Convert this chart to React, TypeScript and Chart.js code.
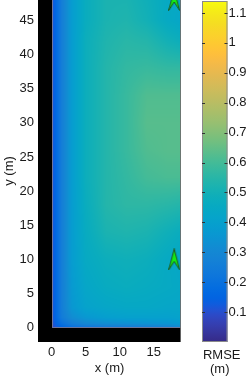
import React, { useEffect, useRef } from "react";
import { Chart, registerables } from "chart.js";
Chart.register(...registerables);

// ---- data ----
const gridX = [0, 0.6, 1.5, 3, 5, 8, 11, 14, 17, 19];
const gridY = [0, 0.6, 1.5, 3, 6, 10, 14, 18, 22, 26, 30, 34, 38, 42, 45, 48];
// RMSE (m), one row per gridY value, one column per gridX value
const rmse = [
  [0.08, 0.11, 0.15, 0.19, 0.21, 0.23, 0.24, 0.25, 0.27, 0.3],
  [0.09, 0.14, 0.2, 0.26, 0.3, 0.32, 0.33, 0.34, 0.35, 0.37],
  [0.1, 0.16, 0.25, 0.32, 0.36, 0.39, 0.4, 0.4, 0.4, 0.41],
  [0.1, 0.16, 0.26, 0.36, 0.41, 0.43, 0.44, 0.44, 0.43, 0.43],
  [0.1, 0.16, 0.26, 0.37, 0.43, 0.46, 0.47, 0.46, 0.45, 0.44],
  [0.1, 0.16, 0.26, 0.38, 0.45, 0.48, 0.49, 0.48, 0.45, 0.43],
  [0.1, 0.16, 0.26, 0.38, 0.46, 0.52, 0.53, 0.52, 0.49, 0.47],
  [0.1, 0.16, 0.26, 0.38, 0.47, 0.54, 0.56, 0.56, 0.55, 0.54],
  [0.1, 0.16, 0.26, 0.38, 0.48, 0.54, 0.57, 0.6, 0.61, 0.61],
  [0.1, 0.16, 0.26, 0.38, 0.48, 0.54, 0.58, 0.62, 0.63, 0.63],
  [0.1, 0.16, 0.26, 0.38, 0.48, 0.54, 0.58, 0.63, 0.63, 0.63],
  [0.1, 0.16, 0.26, 0.38, 0.48, 0.54, 0.58, 0.62, 0.62, 0.62],
  [0.1, 0.16, 0.26, 0.38, 0.48, 0.54, 0.57, 0.58, 0.57, 0.57],
  [0.1, 0.16, 0.26, 0.38, 0.48, 0.53, 0.55, 0.54, 0.5, 0.48],
  [0.1, 0.16, 0.26, 0.38, 0.47, 0.52, 0.53, 0.5, 0.45, 0.43],
  [0.1, 0.16, 0.26, 0.38, 0.47, 0.52, 0.52, 0.49, 0.45, 0.44],
];
const receivers = [
  { x: 18, y: 10 },
  { x: 18, y: 48 },
];
const xTicks = [0, 5, 10, 15];
const yTicks = [0, 5, 10, 15, 20, 25, 30, 35, 40, 45];
const cbTicks = [0.1, 0.2, 0.3, 0.4, 0.5, 0.6, 0.7, 0.8, 0.9, 1, 1.1];
const cbMin = 0;
const cbMax = 1.14;

// ---- colormap (parula) ----
const parula = [
  [0.2081, 0.1663, 0.5292], [0.2116, 0.1898, 0.5777], [0.2123, 0.2138, 0.627], [0.2081, 0.2386, 0.6771],
  [0.1959, 0.2645, 0.7279], [0.1707, 0.2919, 0.7792], [0.1253, 0.3242, 0.8303], [0.0591, 0.3598, 0.8683],
  [0.0117, 0.3875, 0.882], [0.006, 0.4086, 0.8828], [0.0165, 0.4266, 0.8786], [0.0329, 0.443, 0.872],
  [0.0498, 0.4586, 0.8641], [0.0629, 0.4737, 0.8554], [0.0723, 0.4887, 0.8467], [0.0779, 0.504, 0.8384],
  [0.0793, 0.52, 0.8312], [0.0749, 0.5375, 0.8263], [0.0641, 0.557, 0.824], [0.0488, 0.5772, 0.8228],
  [0.0343, 0.5966, 0.8199], [0.0265, 0.6137, 0.8135], [0.0239, 0.6287, 0.8038], [0.0231, 0.6418, 0.7913],
  [0.0228, 0.6535, 0.7768], [0.0267, 0.6642, 0.7607], [0.0384, 0.6743, 0.7436], [0.059, 0.6838, 0.7254],
  [0.0843, 0.6928, 0.7062], [0.1133, 0.7015, 0.6859], [0.1453, 0.7098, 0.6646], [0.1801, 0.7177, 0.6424],
  [0.2178, 0.725, 0.6193], [0.2586, 0.7317, 0.5954], [0.3022, 0.7376, 0.5712], [0.3482, 0.7424, 0.5473],
  [0.3953, 0.7459, 0.5244], [0.442, 0.7481, 0.5033], [0.4871, 0.7491, 0.484], [0.53, 0.7491, 0.4661],
  [0.5709, 0.7485, 0.4494], [0.6099, 0.7473, 0.4337], [0.6473, 0.7456, 0.4188], [0.6834, 0.7435, 0.4044],
  [0.7184, 0.7411, 0.3905], [0.7525, 0.7384, 0.3768], [0.7858, 0.7356, 0.3633], [0.8185, 0.7327, 0.3498],
  [0.8507, 0.7299, 0.336], [0.8824, 0.7274, 0.3217], [0.9139, 0.7258, 0.3063], [0.945, 0.7261, 0.2886],
  [0.9739, 0.7314, 0.2666], [0.9938, 0.7455, 0.2403], [0.999, 0.7653, 0.2164], [0.9955, 0.7861, 0.1967],
  [0.988, 0.8066, 0.1794], [0.9789, 0.8271, 0.1633], [0.9697, 0.8481, 0.1475], [0.9626, 0.8705, 0.1309],
  [0.9589, 0.8949, 0.1132], [0.9598, 0.9218, 0.0948], [0.9661, 0.9514, 0.0755], [0.9763, 0.9831, 0.0538],
];

function colorFor(v: number): [number, number, number] {
  let t = (v - cbMin) / (cbMax - cbMin);
  t = Math.max(0, Math.min(1, t));
  const f = t * (parula.length - 1);
  const i = Math.min(parula.length - 2, Math.floor(f));
  const a = f - i;
  const c0 = parula[i];
  const c1 = parula[i + 1];
  return [
    Math.round((c0[0] + (c1[0] - c0[0]) * a) * 255),
    Math.round((c0[1] + (c1[1] - c0[1]) * a) * 255),
    Math.round((c0[2] + (c1[2] - c0[2]) * a) * 255),
  ];
}

function seg(arr: number[], v: number) {
  let i = 0;
  while (i < arr.length - 2 && v > arr[i + 1]) i++;
  const a = Math.max(0, Math.min(1, (v - arr[i]) / (arr[i + 1] - arr[i])));
  return [i, a];
}

function sample(x: number, y: number) {
  const [i, a] = seg(gridX, x);
  const [j, b] = seg(gridY, y);
  const v00 = rmse[j][i];
  const v01 = rmse[j][i + 1];
  const v10 = rmse[j + 1][i];
  const v11 = rmse[j + 1][i + 1];
  return (v00 * (1 - a) + v01 * a) * (1 - b) + (v10 * (1 - a) + v11 * a) * b;
}

const FONT = { family: "'Liberation Sans', Arial, sans-serif", size: 13 };
const TEXT = "#1a1a1a";

const heatmapPlugin = {
  id: "heatmap",
  beforeDatasetsDraw(chart: any) {
    const { ctx, chartArea } = chart;
    const xs = chart.scales.x;
    const ys = chart.scales.y;
    ctx.save();
    ctx.fillStyle = "#000";
    ctx.fillRect(chartArea.left, chartArea.top, chartArea.right - chartArea.left, chartArea.bottom - chartArea.top);
    const px0 = Math.round(xs.getPixelForValue(gridX[0]));
    const px1 = Math.round(xs.getPixelForValue(gridX[gridX.length - 1]));
    const py0 = Math.round(ys.getPixelForValue(gridY[gridY.length - 1]));
    const py1 = Math.round(ys.getPixelForValue(gridY[0]));
    const w = Math.max(1, px1 - px0);
    const h = Math.max(1, py1 - py0);
    const off = document.createElement("canvas");
    off.width = w;
    off.height = h;
    const octx = off.getContext("2d")!;
    const img = octx.createImageData(w, h);
    for (let r = 0; r < h; r++) {
      const yv = ys.getValueForPixel(py0 + r + 0.5);
      for (let c = 0; c < w; c++) {
        const xv = xs.getValueForPixel(px0 + c + 0.5);
        const [R, G, B] = colorFor(sample(xv, yv));
        const k = (r * w + c) * 4;
        img.data[k] = R;
        img.data[k + 1] = G;
        img.data[k + 2] = B;
        img.data[k + 3] = 255;
      }
    }
    octx.putImageData(img, 0, 0);
    ctx.drawImage(off, px0, py0);
    ctx.strokeStyle = "rgba(120,120,150,0.9)";
    ctx.lineWidth = 1;
    ctx.beginPath();
    ctx.moveTo(px0 + 0.5, py0);
    ctx.lineTo(px0 + 0.5, py1 - 0.5);
    ctx.lineTo(px1, py1 - 0.5);
    ctx.stroke();
    ctx.strokeStyle = "rgba(110,110,110,0.9)";
    ctx.beginPath();
    ctx.moveTo(chartArea.right - 0.5, chartArea.top);
    ctx.lineTo(chartArea.right - 0.5, chartArea.bottom);
    ctx.stroke();
    ctx.restore();
  },
};

const colorbarPlugin = {
  id: "colorbar",
  beforeDatasetsDraw(chart: any) {
    const { ctx, chartArea } = chart;
    const ys = chart.scales.y;
    const top = ys.getPixelForValue(cbMax);
    const bot = ys.getPixelForValue(cbMin);
    const g = ctx.createLinearGradient(0, bot, 0, top);
    parula.forEach((c, i) => {
      g.addColorStop(i / (parula.length - 1), `rgb(${Math.round(c[0] * 255)},${Math.round(c[1] * 255)},${Math.round(c[2] * 255)})`);
    });
    ctx.save();
    ctx.fillStyle = g;
    ctx.fillRect(chartArea.left, top, chartArea.right - chartArea.left, bot - top);
    ctx.strokeStyle = "#8a8a8a";
    ctx.lineWidth = 1;
    ctx.strokeRect(chartArea.left + 0.5, top + 0.5, chartArea.right - chartArea.left - 1, bot - top - 1);
    ctx.strokeStyle = "#333";
    ctx.beginPath();
    cbTicks.forEach((v) => {
      const p = Math.round(ys.getPixelForValue(v)) + 0.5;
      ctx.moveTo(chartArea.left, p);
      ctx.lineTo(chartArea.left + 3, p);
      ctx.moveTo(chartArea.right - 3, p);
      ctx.lineTo(chartArea.right, p);
    });
    ctx.stroke();
    ctx.fillStyle = TEXT;
    ctx.font = `${FONT.size}px ${FONT.family}`;
    ctx.textAlign = "center";
    ctx.textBaseline = "alphabetic";
    const cx = (chartArea.left + chartArea.right) / 2 + 7;
    ctx.fillText("RMSE", cx, 359);
    ctx.fillText("(m)", cx - 2, 373);
    ctx.restore();
  },
};

function makeArrow() {
  const c = document.createElement("canvas");
  c.width = 12;
  c.height = 22;
  const g = c.getContext("2d")!;
  g.beginPath();
  g.moveTo(6, 0.5);
  g.lineTo(11.5, 21.5);
  g.lineTo(6, 13);
  g.lineTo(0.5, 21.5);
  g.closePath();
  g.fillStyle = "rgb(20,235,20)";
  g.fill();
  g.strokeStyle = "#1d5a1d";
  g.lineWidth = 1;
  g.stroke();
  return c;
}

export default function App() {
  const mainRef = useRef<HTMLCanvasElement>(null);
  const cbRef = useRef<HTMLCanvasElement>(null);

  useEffect(() => {
    const arrow = makeArrow();
    const main = new Chart(mainRef.current!, {
      type: "scatter",
      data: {
        datasets: [
          {
            data: receivers,
            pointStyle: arrow as any,
            pointRadius: 10,
            clip: false as any,
          },
        ],
      },
      options: {
        animation: false,
        responsive: false,
        maintainAspectRatio: false,
        layout: { autoPadding: false, padding: { top: 0, right: 9, left: 0, bottom: 0 } },
        plugins: { legend: { display: false }, tooltip: { enabled: false } },
        scales: {
          x: {
            type: "linear",
            min: -2,
            max: 19,
            afterBuildTicks: (s: any) => {
              s.ticks = xTicks.map((v) => ({ value: v }));
            },
            afterFit: (s: any) => {
              s.height = 34;
              s.paddingLeft = 0;
              s.paddingRight = 0;
            },
            grid: { display: false, drawTicks: false },
            border: { display: false },
            ticks: { padding: 3, font: FONT, color: TEXT, maxRotation: 0, autoSkip: false },
            title: { display: true, text: "x (m)", font: FONT, color: TEXT, padding: 0 },
          },
          y: {
            type: "linear",
            min: -2.1,
            max: 48,
            afterBuildTicks: (s: any) => {
              s.ticks = yTicks.map((v) => ({ value: v }));
            },
            afterFit: (s: any) => {
              s.width = 38;
              s.paddingTop = 0;
              s.paddingBottom = 0;
            },
            grid: { display: false, drawTicks: false },
            border: { display: false },
            ticks: { padding: 4, font: FONT, color: TEXT, autoSkip: false },
            title: { display: true, text: "y (m)", font: FONT, color: TEXT, padding: { top: 2, bottom: 0 } },
          },
        },
      },
      plugins: [heatmapPlugin],
    });

    const cb = new Chart(cbRef.current!, {
      type: "scatter",
      data: { datasets: [] },
      options: {
        animation: false,
        responsive: false,
        maintainAspectRatio: false,
        layout: { autoPadding: false, padding: { top: 1, right: 0, left: 12, bottom: 34 } },
        plugins: { legend: { display: false }, tooltip: { enabled: false } },
        scales: {
          x: { display: false, min: 0, max: 1 },
          y: {
            type: "linear",
            position: "right",
            min: cbMin,
            max: cbMax,
            afterBuildTicks: (s: any) => {
              s.ticks = cbTicks.map((v) => ({ value: v }));
            },
            afterFit: (s: any) => {
              s.width = 21.5;
              s.paddingTop = 0;
              s.paddingBottom = 0;
            },
            grid: { display: false, drawTicks: false },
            border: { display: false },
            ticks: {
              padding: 1,
              font: FONT,
              color: TEXT,
              autoSkip: false,
              callback: (v: any) => String(Math.round(Number(v) * 10) / 10),
            },
          },
        },
      },
      plugins: [colorbarPlugin],
    });

    return () => {
      main.destroy();
      cb.destroy();
    };
  }, []);

  return (
    <div style={{ position: "fixed", left: 0, top: 0, width: 249, height: 376, background: "#fff", overflow: "hidden" }}>
      <canvas ref={mainRef} width={190} height={376} style={{ position: "absolute", left: 0, top: 0, width: 190, height: 376 }} />
      <canvas ref={cbRef} width={59} height={376} style={{ position: "absolute", left: 190, top: 0, width: 59, height: 376 }} />
    </div>
  );
}
